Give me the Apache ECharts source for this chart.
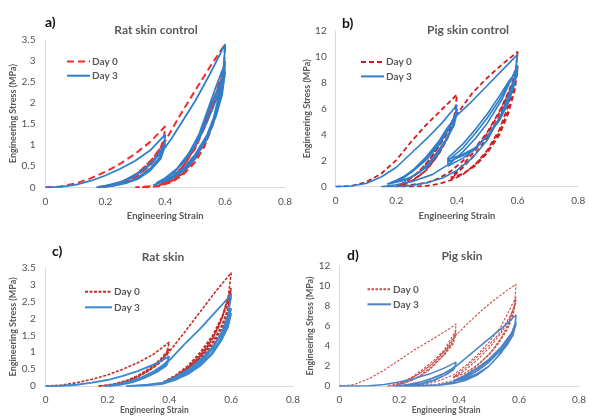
<!DOCTYPE html>
<html>
<head>
<meta charset="utf-8">
<script src="https://cdn.jsdelivr.net/npm/echarts@6/dist/echarts.min.js"></script>
<style>html,body{margin:0;padding:0;background:#fff}#c{width:589px;height:416px}</style>
</head>
<body>
<div id="c"></div>
<script>
// ---- Panel a) Rat skin control ----
const ratCtrlDay0 = [
 [0,0],[0.05,0.02],[0.1,0.09],[0.15,0.21],[0.2,0.37],[0.25,0.56],[0.3,0.8],[0.35,1.08],[0.4,1.45],
 [0.395,1.15],[0.38,0.85],[0.35,0.55],[0.31,0.3],[0.27,0.14],[0.23,0.05],[0.19,0.01],[0.17,0],
 [0.22,0.04],[0.27,0.16],[0.31,0.35],[0.35,0.62],[0.38,0.88],[0.4,1.15],
 [0.385,0.85],[0.35,0.52],[0.31,0.28],[0.27,0.12],[0.22,0.03],[0.18,0],
 [0.23,0.06],[0.28,0.2],[0.32,0.4],[0.36,0.7],[0.4,1.1],
 [0.45,1.72],[0.5,2.3],[0.55,2.87],[0.6,3.4],
 [0.595,2.7],[0.58,2.1],[0.56,1.5],[0.53,0.95],[0.5,0.6],[0.46,0.3],[0.42,0.12],[0.38,0.03],[0.34,0],[0.3,0],
 [0.38,0.04],[0.43,0.25],[0.47,0.6],[0.51,1.1],[0.54,1.65],[0.57,2.25],[0.6,3.0],
 [0.59,2.4],[0.57,1.8],[0.54,1.2],[0.5,0.7],[0.46,0.35],[0.42,0.15],[0.38,0.05],
 [0.42,0.2],[0.46,0.5],[0.5,0.95],[0.53,1.45],[0.56,2.0],[0.6,2.85],
 [0.59,2.3],[0.57,1.75],[0.54,1.15],[0.5,0.68],[0.46,0.33],[0.42,0.14],[0.38,0.05],
 [0.42,0.22],[0.46,0.5],[0.5,0.92],[0.53,1.4],[0.57,2.1],[0.6,2.75]
];
const ratCtrlDay3 = [
 [0,0],[0.05,0.01],[0.1,0.06],[0.15,0.15],[0.2,0.28],[0.25,0.44],[0.3,0.63],[0.35,0.88],[0.39,1.18],[0.4,1.25],
 [0.395,0.95],[0.38,0.7],[0.35,0.45],[0.31,0.24],[0.27,0.1],[0.22,0.03],[0.17,0],
 [0.2,0.04],[0.25,0.12],[0.3,0.3],[0.34,0.5],[0.37,0.72],[0.4,1.05],
 [0.385,0.7],[0.35,0.42],[0.31,0.22],[0.27,0.1],[0.22,0.03],[0.18,0.01],
 [0.22,0.07],[0.27,0.17],[0.31,0.33],[0.35,0.55],[0.38,0.78],[0.4,1.0],
 [0.385,0.68],[0.35,0.4],[0.31,0.2],[0.26,0.08],[0.21,0.03],
 [0.26,0.13],[0.3,0.28],[0.34,0.48],[0.37,0.7],[0.4,0.95],
 [0.42,1.15],[0.46,1.6],[0.5,2.05],[0.55,2.7],[0.6,3.4],
 [0.595,2.8],[0.58,2.2],[0.56,1.6],[0.53,1.05],[0.5,0.68],[0.46,0.38],[0.42,0.2],[0.38,0.1],[0.36,0.05],
 [0.39,0.15],[0.43,0.35],[0.47,0.7],[0.51,1.2],[0.54,1.8],[0.57,2.4],[0.6,2.95],
 [0.59,2.35],[0.57,1.8],[0.54,1.25],[0.5,0.78],[0.46,0.45],[0.42,0.24],[0.38,0.13],[0.37,0.1],
 [0.4,0.22],[0.44,0.45],[0.48,0.82],[0.52,1.35],[0.55,1.9],[0.6,2.75],
 [0.59,2.2],[0.57,1.7],[0.54,1.15],[0.5,0.72],[0.46,0.42],[0.42,0.22],[0.38,0.12],
 [0.42,0.3],[0.46,0.58],[0.5,0.98],[0.53,1.4],[0.56,1.9],[0.6,2.65]
];
// ---- Panel b) Pig skin control ----
const pigCtrlDay0 = [
 [0,0],[0.05,0.05],[0.1,0.35],[0.15,1.0],[0.2,2.05],[0.25,3.5],[0.3,4.8],[0.35,5.95],[0.4,7.1],
 [0.39,5.2],[0.37,3.8],[0.34,2.5],[0.3,1.3],[0.26,0.55],[0.22,0.15],[0.2,0.05],
 [0.23,0.35],[0.27,1.05],[0.31,2.1],[0.35,3.5],[0.38,4.8],[0.4,6.0],
 [0.39,4.9],[0.36,3.4],[0.33,2.2],[0.29,1.1],[0.25,0.45],[0.21,0.1],
 [0.24,0.5],[0.28,1.3],[0.32,2.4],[0.36,3.8],[0.4,5.6],
 [0.45,7.2],[0.5,8.4],[0.55,9.45],[0.6,10.4],
 [0.59,8.2],[0.57,6.3],[0.54,4.4],[0.5,2.8],[0.46,1.7],[0.42,0.95],[0.38,0.5],[0.34,0.22],[0.3,0.07],[0.25,0],[0.2,0],
 [0.3,0.3],[0.34,0.65],[0.38,1.2],[0.42,2.0],[0.46,3.0],[0.5,4.2],[0.54,5.8],[0.57,7.3],[0.6,9.3],
 [0.59,7.6],[0.57,5.9],[0.54,4.2],[0.5,2.7],[0.46,1.7],[0.42,1.0],[0.38,0.6],
 [0.42,1.5],[0.46,2.5],[0.5,3.8],[0.54,5.4],[0.57,7.0],[0.6,9.0],
 [0.59,7.4],[0.57,5.7],[0.54,4.0],[0.5,2.6],[0.46,1.6],[0.42,1.0],[0.38,0.7],
 [0.42,1.7],[0.46,2.8],[0.5,4.1],[0.54,5.7],[0.57,7.2],[0.6,8.8]
];
const pigCtrlDay3 = [
 [0,0],[0.05,0.05],[0.1,0.25],[0.15,0.75],[0.2,1.5],[0.25,2.6],[0.3,3.7],[0.35,4.9],[0.4,6.3],
 [0.39,5.0],[0.37,3.8],[0.34,2.6],[0.3,1.5],[0.25,0.75],[0.2,0.35],[0.17,0.2],
 [0.2,0.5],[0.25,1.1],[0.3,2.1],[0.34,3.2],[0.37,4.3],[0.4,5.9],
 [0.39,4.8],[0.36,3.5],[0.32,2.2],[0.28,1.2],[0.23,0.5],[0.18,0.25],
 [0.22,0.6],[0.26,1.3],[0.3,2.2],[0.34,3.4],[0.37,4.4],[0.4,5.7],
 [0.39,4.7],[0.36,3.4],[0.32,2.1],[0.28,1.15],[0.23,0.5],[0.18,0.3],
 [0.22,0.7],[0.26,1.4],[0.3,2.35],[0.34,3.5],[0.37,4.6],[0.4,5.5],
 [0.45,6.6],[0.5,7.8],[0.55,9.0],[0.6,10.2],
 [0.59,8.5],[0.57,7.0],[0.54,5.3],[0.5,3.6],[0.45,2.2],[0.4,1.25],[0.35,0.65],[0.3,0.3],[0.25,0.1],[0.2,0.02],[0.15,0],
 [0.2,0.15],[0.26,0.45],[0.32,0.95],[0.377,1.8],[0.42,2.7],[0.46,3.7],[0.5,4.9],[0.55,6.8],[0.6,9.4],
 [0.59,8.2],[0.57,6.8],[0.54,5.3],[0.5,3.9],[0.46,2.9],[0.42,2.2],[0.37,1.6],
 [0.37,2.0],[0.42,3.0],[0.46,4.1],[0.5,5.3],[0.54,6.7],[0.57,7.9],[0.6,9.2],
 [0.59,8.0],[0.57,6.6],[0.54,5.2],[0.5,3.9],[0.46,3.0],[0.42,2.4],[0.37,1.9],
 [0.37,2.2],[0.42,3.3],[0.46,4.4],[0.5,5.6],[0.54,7.0],[0.57,8.1],[0.6,9.0],
 [0.59,7.9],[0.57,6.5],[0.54,5.1],[0.5,3.9],[0.46,3.0],[0.42,2.5],[0.37,2.1]
];
// ---- Panel c) Rat skin ----
const ratDay0 = [
 [0,0],[0.05,0.03],[0.1,0.1],[0.15,0.2],[0.2,0.33],[0.25,0.5],[0.3,0.7],[0.35,0.95],[0.4,1.3],
 [0.39,0.95],[0.37,0.72],[0.34,0.5],[0.3,0.28],[0.26,0.13],[0.22,0.04],[0.17,0],
 [0.22,0.06],[0.26,0.16],[0.3,0.32],[0.34,0.55],[0.37,0.78],[0.4,1.1],
 [0.39,0.85],[0.36,0.62],[0.33,0.43],[0.29,0.24],[0.25,0.1],[0.2,0.02],
 [0.24,0.1],[0.28,0.22],[0.32,0.4],[0.36,0.66],[0.4,1.02],
 [0.45,1.6],[0.5,2.2],[0.55,2.8],[0.6,3.35],
 [0.59,2.6],[0.57,2.0],[0.54,1.4],[0.5,0.9],[0.46,0.55],[0.42,0.28],[0.38,0.1],
 [0.4,0.15],[0.44,0.35],[0.48,0.65],[0.52,1.1],[0.56,1.75],[0.6,2.9],
 [0.59,2.3],[0.57,1.8],[0.54,1.3],[0.5,0.85],[0.46,0.5],[0.42,0.25],[0.38,0.1],
 [0.42,0.3],[0.46,0.55],[0.5,0.95],[0.54,1.45],[0.57,2.0],[0.6,2.75],
 [0.59,2.2],[0.57,1.7],[0.54,1.22],[0.5,0.8],[0.46,0.47],[0.42,0.24],[0.38,0.12],
 [0.42,0.32],[0.46,0.6],[0.5,1.0],[0.54,1.5],[0.57,2.05],[0.6,2.6]
];
const ratDay3 = [
 [0,0],[0.05,0.01],[0.1,0.04],[0.15,0.1],[0.2,0.18],[0.25,0.3],[0.3,0.45],[0.35,0.64],[0.4,0.88],
 [0.39,0.65],[0.37,0.5],[0.34,0.34],[0.3,0.18],[0.26,0.07],[0.22,0.02],[0.19,0],
 [0.23,0.05],[0.27,0.13],[0.31,0.26],[0.35,0.44],[0.38,0.62],[0.4,0.8],
 [0.39,0.6],[0.36,0.42],[0.32,0.24],[0.28,0.11],[0.24,0.04],[0.21,0.01],
 [0.25,0.08],[0.29,0.18],[0.33,0.33],[0.37,0.55],[0.4,0.76],
 [0.45,1.25],[0.5,1.7],[0.55,2.2],[0.6,2.7],
 [0.59,2.1],[0.57,1.6],[0.54,1.1],[0.5,0.68],[0.46,0.38],[0.42,0.18],[0.38,0.07],[0.33,0.02],[0.26,0],
 [0.33,0.04],[0.38,0.1],[0.42,0.22],[0.46,0.42],[0.5,0.72],[0.54,1.15],[0.57,1.6],[0.6,2.3],
 [0.59,1.85],[0.57,1.45],[0.54,1.0],[0.5,0.62],[0.46,0.36],[0.42,0.19],[0.38,0.1],
 [0.42,0.25],[0.46,0.45],[0.5,0.75],[0.54,1.15],[0.57,1.6],[0.6,2.15],
 [0.59,1.75],[0.57,1.38],[0.54,0.96],[0.5,0.6],[0.46,0.35],[0.42,0.19],[0.38,0.11],
 [0.42,0.27],[0.46,0.48],[0.5,0.78],[0.54,1.15],[0.57,1.55],[0.6,2.1]
];
// ---- Panel d) Pig skin ----
const pigDay0 = [
 [0,0],[0.05,0.15],[0.1,0.75],[0.15,1.6],[0.2,2.6],[0.25,3.6],[0.3,4.5],[0.35,5.4],[0.39,6.2],
 [0.385,5.0],[0.37,4.0],[0.34,2.8],[0.3,1.6],[0.26,0.8],[0.22,0.3],[0.18,0.05],[0.16,0],
 [0.2,0.3],[0.24,0.85],[0.28,1.7],[0.32,2.7],[0.35,3.6],[0.39,5.6],
 [0.38,4.4],[0.35,3.2],[0.31,2.0],[0.27,1.05],[0.23,0.45],[0.19,0.12],
 [0.23,0.6],[0.27,1.3],[0.31,2.2],[0.35,3.4],[0.39,5.3],
 [0.38,4.2],[0.35,3.1],[0.31,1.95],[0.27,1.0],[0.23,0.45],[0.2,0.2],
 [0.24,0.75],[0.28,1.5],[0.32,2.5],[0.36,3.8],[0.39,5.1],
 [0.43,6.3],[0.48,7.7],[0.53,8.9],[0.59,10.2],
 [0.585,8.2],[0.57,6.6],[0.54,4.8],[0.5,3.2],[0.46,2.0],[0.42,1.1],[0.38,0.55],[0.33,0.2],[0.28,0.05],[0.22,0],
 [0.28,0.15],[0.33,0.5],[0.38,1.1],[0.42,2.0],[0.46,3.1],[0.5,4.4],[0.54,6.0],[0.59,8.9],
 [0.58,7.2],[0.56,5.8],[0.53,4.3],[0.5,3.2],[0.46,2.1],[0.42,1.3],[0.38,0.8],
 [0.42,1.6],[0.46,2.6],[0.5,3.8],[0.54,5.3],[0.57,6.8],[0.59,8.6],
 [0.58,7.0],[0.56,5.6],[0.53,4.2],[0.5,3.1],[0.46,2.1],[0.42,1.3],[0.38,0.9],
 [0.42,1.8],[0.46,2.9],[0.5,4.1],[0.54,5.5],[0.57,7.0],[0.59,8.3]
];
const pigDay3 = [
 [0,0],[0.05,0.01],[0.1,0.04],[0.15,0.15],[0.2,0.4],[0.25,0.75],[0.3,1.2],[0.35,1.8],[0.39,2.4],
 [0.385,1.8],[0.36,1.2],[0.32,0.6],[0.28,0.25],[0.23,0.06],[0.18,0],
 [0.22,0.1],[0.26,0.3],[0.3,0.65],[0.34,1.1],[0.37,1.6],[0.39,2.1],
 [0.38,1.6],[0.35,1.05],[0.31,0.55],[0.27,0.22],[0.22,0.06],[0.19,0.02],
 [0.23,0.15],[0.27,0.4],[0.31,0.8],[0.35,1.3],[0.39,2.0],
 [0.43,3.0],[0.47,4.0],[0.51,5.0],[0.55,6.0],[0.59,7.1],
 [0.585,5.8],[0.57,4.7],[0.54,3.3],[0.5,2.0],[0.46,1.1],[0.42,0.55],[0.38,0.25],[0.33,0.08],[0.27,0],[0.2,0],
 [0.33,0.12],[0.38,0.4],[0.42,0.85],[0.46,1.5],[0.5,2.4],[0.54,3.6],[0.57,4.9],[0.59,6.5],
 [0.58,5.2],[0.56,4.2],[0.53,3.0],[0.5,2.0],[0.46,1.2],[0.42,0.7],[0.38,0.45],
 [0.42,1.0],[0.46,1.7],[0.5,2.6],[0.54,3.8],[0.57,5.0],[0.59,6.3],
 [0.58,5.1],[0.56,4.1],[0.53,3.0],[0.5,2.0],[0.46,1.25],[0.42,0.75],[0.38,0.5],
 [0.42,1.1],[0.46,1.8],[0.5,2.7],[0.54,3.9],[0.57,5.1],[0.59,6.1]
];

const panelLetters = ['a)', 'b)', 'c)', 'd)'];
const panelTitles = ['Rat skin control', 'Pig skin control', 'Rat skin', 'Pig skin'];
const seriesNames = ['Day 0', 'Day 3'];
const yMaxes = [3.5, 12, 3.5, 12];
const yIntervals = [0.5, 2, 0.5, 2];
const xMax = 0.8, xInterval = 0.2;
const xName = 'Engineering Strain';
const yName = 'Engineering Stress (MPa)';

const panelData = [[ratCtrlDay0, ratCtrlDay3], [pigCtrlDay0, pigCtrlDay3], [ratDay0, ratDay3], [pigDay0, pigDay3]];

// layout / style (not data)
const grids = [
  {left: 45.5, top: 40, width: 239.5, height: 147.3},
  {left: 335.7, top: 31, width: 242.6, height: 155.7},
  {left: 45.7, top: 267.7, width: 247.3, height: 123.3},
  {left: 339.3, top: 266, width: 250.7, height: 124.7}
];
const styles = [
  [{color: '#F42A2A', width: 2, type: [7, 4]}, {color: '#2F7ECB', width: 1.8, type: 'solid'}],
  [{color: '#CC1F1F', width: 1.8, type: [5, 3]}, {color: '#2F7ECB', width: 1.6, type: 'solid'}],
  [{color: '#C22E2A', width: 1.6, type: [3, 1.5]}, {color: '#3C88D0', width: 1.8, type: 'solid'}],
  [{color: '#C9504D', width: 1.1, type: [2.5, 1.5]}, {color: '#4A84C4', width: 1.5, type: 'solid'}]
];
const legendPos = [
  {left: 61, top: 51.5, itemWidth: 23, itemGap: 4.2},
  {left: 355, top: 52, itemWidth: 23, itemGap: 4.4},
  {left: 79, top: 281.7, itemWidth: 27, itemGap: 5.6},
  {left: 361.5, top: 279.3, itemWidth: 23.5, itemGap: 5}
];
const yNameGaps = [27, 21, 22, 18];
const xNameGaps = [24, 24, 17, 17];
const xNamePad = [[0,0,0,0],[0,0,0,0],[0,30,0,0],[0,26,0,0]];
const titlePos = [
  {lx: 40, ly: 10, cx: 151, cy: 19},
  {lx: 337, ly: 11, cx: 463, cy: 19},
  {lx: 47, ly: 239, cx: 158, cy: 246},
  {lx: 342, ly: 243, cx: 457, cy: 245}
];

const FONT = 'Lato, "Open Sans", sans-serif';
const grey = '#595959';

const option = {
  animation: false,
  textStyle: {fontFamily: FONT},
  title: [], legend: [], grid: [], xAxis: [], yAxis: [], series: []
};

for (let i = 0; i < 4; i++) {
  const p = 'abcd'[i];
  option.title.push({text: panelLetters[i], left: titlePos[i].lx, top: titlePos[i].ly,
    textStyle: {fontFamily: FONT, fontSize: 14, fontWeight: 'bold', color: '#111'}});
  option.title.push({text: panelTitles[i], left: titlePos[i].cx, top: titlePos[i].cy, textAlign: 'center',
    textStyle: {fontFamily: FONT, fontSize: 12, fontWeight: 'bold', color: grey}});
  option.grid.push(Object.assign({containLabel: false}, grids[i]));
  const axisLabel = {color: '#505050', fontSize: 10, fontFamily: FONT};
  option.xAxis.push({
    type: 'value', gridIndex: i, min: 0, max: xMax, interval: xInterval,
    name: xName, nameLocation: 'middle', nameGap: xNameGaps[i],
    nameTextStyle: {color: grey, fontSize: i < 2 ? 9.5 : 8.5, fontWeight: 'bold', fontFamily: FONT, padding: xNamePad[i]},
    axisLine: {show: true, lineStyle: {color: '#D9D9D9', width: 1}},
    axisTick: {show: false}, splitLine: {show: false},
    axisLabel: Object.assign({margin: 9}, axisLabel)
  });
  option.yAxis.push({
    type: 'value', gridIndex: i, min: 0, max: yMaxes[i], interval: yIntervals[i],
    name: yName, nameLocation: 'middle', nameGap: yNameGaps[i], nameRotate: 90,
    nameTextStyle: {color: grey, fontSize: 9, fontWeight: 'bold', fontFamily: FONT},
    axisLine: {show: true, lineStyle: {color: '#D9D9D9', width: 1}},
    axisTick: {show: false}, splitLine: {show: false},
    axisLabel: Object.assign({margin: i % 2 ? 9 : 10}, axisLabel)
  });
  const names = seriesNames.map(n => p + '|' + n);
  option.legend.push({
    data: names, orient: 'vertical', left: legendPos[i].left, top: legendPos[i].top,
    itemWidth: legendPos[i].itemWidth, itemHeight: 10, itemGap: legendPos[i].itemGap,
    selectedMode: false,
    itemStyle: {opacity: 0, borderWidth: 0},
    lineStyle: {opacity: 1},
    formatter: n => n.split('|')[1],
    textStyle: {color: grey, fontSize: 10, fontWeight: 'bold', fontFamily: FONT, padding: [0,0,0,-3]}
  });
  for (let s = 0; s < 2; s++) {
    option.series.push({
      name: names[s], type: 'line', xAxisIndex: i, yAxisIndex: i,
      data: panelData[i][s], showSymbol: false, symbol: 'none',
      smooth: false, clip: true,
      lineStyle: styles[i][s], itemStyle: {color: styles[i][s].color}
    });
  }
}

const chart = echarts.init(document.getElementById('c'), null, {renderer: 'canvas'});
chart.setOption(option);
</script>
</body>
</html>
